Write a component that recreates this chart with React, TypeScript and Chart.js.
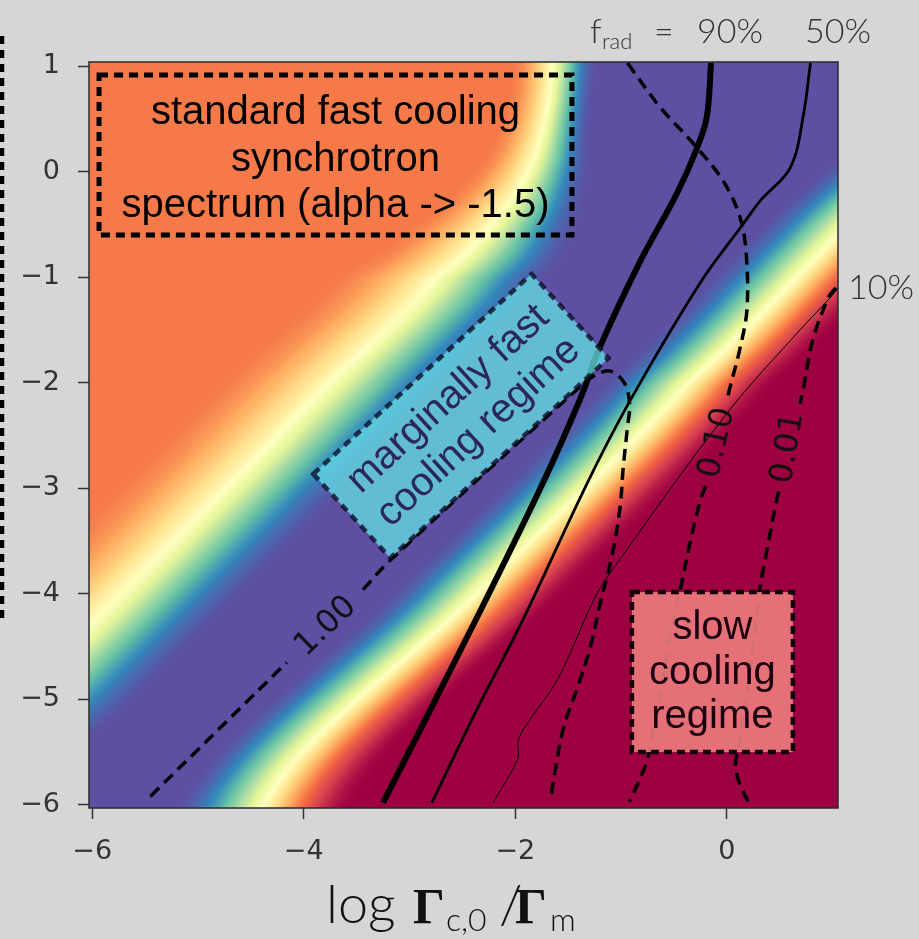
import { useEffect, useRef } from 'react';
import { Chart, registerables } from 'chart.js';

Chart.register(...registerables);

// Axis ranges and ticks
const X_MIN = -6.03;
const X_MAX = 1.05;
const Y_MIN = -6.03;
const Y_MAX = 1.04;
const xTickValues = [-6, -4, -2, 0];
const yTickValues = [-6, -5, -4, -3, -2, -1, 0, 1];

// Colour field: yellow centre line of the fast-cooling -> marginal transition
const fastEdgeY = [-6, -5, -4, -3, -2, -1, -0.5, 0, 0.5, 1];
const fastEdgeX = [-7.72, -6.72, -5.72, -4.73, -3.75, -2.75, -2.22, -1.88, -1.72, -1.65];
const fastEdgeWidth = [1.2, 1.2, 1.2, 1.2, 1.2, 1.1, 0.85, 0.6, 0.46, 0.43];
// yellow centre line of the marginal -> slow-cooling transition
const slowEdgeY = [-6, -4, -2, -0.5, 1];
const slowEdgeX = [-4.37, -2.36, -0.36, 1.15, 2.65];
const slowEdgeWidth = [0.85, 0.85, 0.85, 0.85, 0.85];
// colormap levels of the three regimes
const fastLevel = 0.22;
const bandLevel = 1;
const slowLevel = 0;

// f_rad contours
const frad90X = [-0.15, -0.19, -0.28, -0.47, -0.82, -1.2, -1.39, -1.74, -2.36, -3.25];
const frad90Y = [1.03, 0.52, 0.23, -0.2, -0.85, -1.66, -2.16, -2.95, -4.22, -5.98];
const frad50X = [0.79, 0.72, 0.6, 0.32, 0.15, -0.25, -0.91, -1.32, -1.93, -2.33, -2.79];
const frad50Y = [1.03, 0.52, 0.04, -0.27, -0.5, -1.05, -2.16, -2.95, -4.25, -5.03, -5.98];
const frad10X = [1.05, 0.98, 0.69, 0.0, -1.13, -1.26, -1.6, -1.86, -1.97, -1.98, -2.21];
const frad10Y = [-1.1, -1.19, -1.5, -2.29, -3.84, -4.06, -4.81, -5.19, -5.38, -5.57, -5.98];

// dashed ratio contours (null marks the break left for the inline label)
const ratio100X = [-5.45, -4.16, null, -3.44, -3.18, -1.39, -1.23, -1.1, -0.97, -0.92, -0.94, -0.98, -1.01, -1.08, -1.2, -1.29, -1.42, -1.55, -1.67];
const ratio100Y = [-5.92, -4.65, null, -3.96, -3.68, -2.04, -1.92, -1.89, -2.0, -2.2, -2.42, -2.8, -3.18, -3.61, -4.1, -4.5, -4.91, -5.29, -5.96];
const ratio010X = [-0.94, -0.63, -0.32, -0.04, 0.12, 0.18, 0.19, 0.12, 0.03, 0.0, null, -0.2, -0.25, -0.35, -0.44, -0.53, -0.62, -0.72, -0.76, -0.92];
const ratio010Y = [1.03, 0.61, 0.27, -0.08, -0.42, -0.75, -1.3, -1.69, -2.04, -2.17, null, -2.98, -3.11, -3.52, -3.96, -4.35, -4.9, -5.4, -5.6, -5.97];
const ratio001X = [1.03, 0.96, 0.81, 0.72, 0.69, null, 0.49, 0.47, 0.38, 0.31, 0.26, 0.19, 0.11, 0.08, 0.12, 0.2];
const ratio001Y = [-1.1, -1.19, -1.6, -2.07, -2.2, null, -3.03, -3.11, -3.58, -3.96, -4.4, -4.95, -5.45, -5.62, -5.8, -5.97];

// inline contour labels
const contourLabelText = ['1.00', '0.10', '0.01'];
const contourLabelX = [-3.79, -0.09, 0.58];
const contourLabelY = [-4.31, -2.57, -2.62];
const contourLabelAngle = [-44, -77, -80];

// matplotlib "Spectral"
const SPECTRAL = [
  [158, 1, 66], [213, 62, 79], [244, 109, 67], [253, 174, 97], [254, 224, 139],
  [255, 255, 191], [230, 245, 152], [171, 221, 164], [102, 194, 165], [50, 136, 189], [94, 79, 162],
];

function spectral(v: number): number[] {
  const t = Math.min(1, Math.max(0, v)) * (SPECTRAL.length - 1);
  const i = Math.min(SPECTRAL.length - 2, Math.floor(t));
  const f = t - i;
  const a = SPECTRAL[i];
  const b = SPECTRAL[i + 1];
  return [a[0] + (b[0] - a[0]) * f, a[1] + (b[1] - a[1]) * f, a[2] + (b[2] - a[2]) * f];
}

// smooth (Catmull-Rom) lookup along rows, linear beyond the ends
function rowLookup(rows: number[], vals: number[], y: number): number {
  const n = rows.length;
  if (y <= rows[0]) return vals[0] + ((vals[1] - vals[0]) / (rows[1] - rows[0])) * (y - rows[0]);
  if (y >= rows[n - 1]) return vals[n - 1] + ((vals[n - 1] - vals[n - 2]) / (rows[n - 1] - rows[n - 2])) * (y - rows[n - 1]);
  let i = 0;
  while (i < n - 2 && y > rows[i + 1]) i++;
  const t = (y - rows[i]) / (rows[i + 1] - rows[i]);
  const p0 = vals[Math.max(0, i - 1)];
  const p1 = vals[i];
  const p2 = vals[i + 1];
  const p3 = vals[Math.min(n - 1, i + 2)];
  const t2 = t * t;
  const t3 = t2 * t;
  return 0.5 * (2 * p1 + (-p0 + p2) * t + (2 * p0 - 5 * p1 + 4 * p2 - p3) * t2 + (-p0 + 3 * p1 - 3 * p2 + p3) * t3);
}

const ease = (t: number) => 1.5 * t - 0.5 * t * t * t;

function fieldValue(x: number, fx: number, fw: number, sx: number, sw: number): number {
  const d1 = x - fx;
  let f1: number;
  if (d1 >= 0) {
    f1 = 0.5 + (bandLevel - 0.5) * ease(Math.min(1, d1 / fw));
  } else {
    f1 = 0.5 - (0.5 - fastLevel) * ease(Math.min(1, -d1 / (0.9 * fw)));
  }
  const d2 = x - sx;
  const t2 = Math.max(-1, Math.min(1, d2 / sw));
  const f2 = t2 < 0 ? 0.5 - (bandLevel - 0.5) * ease(t2) : 0.5 - (0.5 - slowLevel) * ease(t2);
  return Math.min(f1, f2);
}

const heatmapPlugin = {
  id: 'heatmap',
  beforeDraw(chart: any) {
    const { ctx } = chart;
    ctx.save();
    ctx.fillStyle = '#d6d6d6';
    ctx.fillRect(0, 0, chart.width, chart.height);
    ctx.restore();
  },
  beforeDatasetsDraw(chart: any) {
    const { ctx, chartArea: a, scales } = chart;
    const w = Math.round(a.right - a.left);
    const h = Math.round(a.bottom - a.top);
    const off = document.createElement('canvas');
    off.width = w;
    off.height = h;
    const octx = off.getContext('2d') as CanvasRenderingContext2D;
    const img = octx.createImageData(w, h);
    const xs: number[] = [];
    for (let i = 0; i < w; i++) xs.push(scales.x.getValueForPixel(a.left + i + 0.5));
    for (let j = 0; j < h; j++) {
      const y = scales.y.getValueForPixel(a.top + j + 0.5);
      const fx = rowLookup(fastEdgeY, fastEdgeX, y);
      const fw = rowLookup(fastEdgeY, fastEdgeWidth, y);
      const sx = rowLookup(slowEdgeY, slowEdgeX, y);
      const sw = rowLookup(slowEdgeY, slowEdgeWidth, y);
      for (let i = 0; i < w; i++) {
        const c = spectral(fieldValue(xs[i], fx, fw, sx, sw));
        const k = (j * w + i) * 4;
        img.data[k] = c[0];
        img.data[k + 1] = c[1];
        img.data[k + 2] = c[2];
        img.data[k + 3] = 255;
      }
    }
    octx.putImageData(img, 0, 0);
    ctx.save();
    ctx.drawImage(off, a.left, a.top);
    ctx.restore();
  },
};

function dashedRect(ctx: CanvasRenderingContext2D, x: number, y: number, w: number, h: number) {
  ctx.beginPath();
  ctx.rect(x, y, w, h);
  ctx.stroke();
}

const overlayPlugin = {
  id: 'overlay',
  afterDatasetsDraw(chart: any) {
    const { ctx, chartArea: a, scales } = chart;
    const px = (v: number) => scales.x.getPixelForValue(v);
    const py = (v: number) => scales.y.getPixelForValue(v);
    ctx.save();

    // inline contour labels
    ctx.fillStyle = '#111';
    ctx.font = '32px "DejaVu Sans", sans-serif';
    ctx.textAlign = 'center';
    ctx.textBaseline = 'middle';
    contourLabelText.forEach((t, i) => {
      ctx.save();
      ctx.translate(px(contourLabelX[i]), py(contourLabelY[i]));
      ctx.rotate((contourLabelAngle[i] * Math.PI) / 180);
      ctx.fillText(t, 0, 0);
      ctx.restore();
    });

    // standard fast cooling box
    ctx.setLineDash([9, 6]);
    ctx.lineWidth = 5;
    ctx.strokeStyle = '#000';
    const b1x0 = px(-5.935), b1x1 = px(-1.465), b1y0 = py(0.917), b1y1 = py(-0.6);
    dashedRect(ctx, b1x0, b1y0, b1x1 - b1x0, b1y1 - b1y0);
    ctx.fillStyle = '#000';
    ctx.font = '40px "Liberation Sans", Arial, sans-serif';
    const b1cx = (b1x0 + b1x1) / 2;
    ctx.fillText('standard fast cooling', b1cx, b1y0 + 38);
    ctx.fillText('synchrotron', b1cx, b1y0 + 85);
    ctx.fillText('spectrum (alpha -> -1.5)', b1cx, b1y0 + 131);

    // marginally fast cooling box (rotated)
    ctx.save();
    ctx.translate(px(-2.514), py(-2.315));
    ctx.rotate((-42.5 * Math.PI) / 180);
    ctx.fillStyle = 'rgba(98, 222, 228, 0.76)';
    ctx.fillRect(-148, -57, 296, 114);
    ctx.strokeStyle = 'rgba(12, 12, 36, 0.78)';
    ctx.lineWidth = 4.5;
    ctx.setLineDash([8, 6]);
    dashedRect(ctx, -148, -57, 296, 114);
    ctx.fillStyle = '#2c2757';
    ctx.font = '40px "Liberation Sans", Arial, sans-serif';
    ctx.fillText('marginally fast', 2, -21);
    ctx.fillText('cooling regime', 2, 24);
    ctx.restore();

    // slow cooling box
    const b3x0 = px(-0.898), b3x1 = px(0.624), b3y0 = py(-3.984), b3y1 = py(-5.5);
    ctx.fillStyle = 'rgba(240, 128, 128, 0.88)';
    ctx.fillRect(b3x0, b3y0, b3x1 - b3x0, b3y1 - b3y0);
    ctx.strokeStyle = '#120008';
    ctx.lineWidth = 4.5;
    ctx.setLineDash([8, 5]);
    dashedRect(ctx, b3x0, b3y0, b3x1 - b3x0, b3y1 - b3y0);
    ctx.fillStyle = '#1c0010';
    const b3cx = (b3x0 + b3x1) / 2;
    ctx.fillText('slow', b3cx, b3y0 + 36);
    ctx.fillText('cooling', b3cx, b3y0 + 81);
    ctx.fillText('regime', b3cx, b3y0 + 125);

    // axes frame
    ctx.setLineDash([]);
    ctx.strokeStyle = '#2a2a2a';
    ctx.lineWidth = 1.5;
    ctx.strokeRect(a.left, a.top, a.right - a.left, a.bottom - a.top);
    ctx.restore();
  },
  afterDraw(chart: any) {
    const { ctx } = chart;
    ctx.save();
    ctx.textAlign = 'left';
    ctx.textBaseline = 'alphabetic';
    ctx.fillStyle = '#333';

    // f_rad contour captions
    ctx.font = '300 34px Lato, "Open Sans", sans-serif';
    ctx.fillText('f', 590, 43);
    ctx.font = '300 22px Lato, "Open Sans", sans-serif';
    ctx.fillText('rad', 602, 49);
    ctx.font = '300 34px Lato, "Open Sans", sans-serif';
    ctx.fillText('=', 654, 43);
    ctx.fillText('90%', 697, 43);
    ctx.fillText('50%', 805, 43);
    ctx.fillText('10%', 848, 299);

    // x axis title
    ctx.fillStyle = '#111';
    ctx.font = '300 54px Lato, "Open Sans", sans-serif';
    ctx.fillText('log', 326, 923);
    ctx.font = 'bold 50px "Liberation Serif", "DejaVu Serif", serif';
    ctx.fillText('Γ', 413, 923);
    ctx.font = '300 32px Lato, "Open Sans", sans-serif';
    ctx.fillText('c,0', 446, 931);
    ctx.font = '300 54px Lato, "Open Sans", sans-serif';
    ctx.fillText('/', 499, 923);
    ctx.font = 'bold 50px "Liberation Serif", "DejaVu Serif", serif';
    ctx.fillText('Γ', 515, 923);
    ctx.font = '300 32px Lato, "Open Sans", sans-serif';
    ctx.fillText('m', 550, 931);

    // edge of a neighbouring panel's dashed frame
    ctx.strokeStyle = '#000';
    ctx.lineWidth = 4.5;
    ctx.setLineDash([8, 6]);
    ctx.beginPath();
    ctx.moveTo(2, 36);
    ctx.lineTo(2, 618);
    ctx.stroke();
    ctx.restore();
  },
};

const zip = (xs: (number | null)[], ys: (number | null)[]) => xs.map((x, i) => ({ x, y: ys[i] }));

const fmtTick = (v: number) => (v < 0 ? '\u2212' + Math.abs(v) : String(v));

export default function App() {
  const ref = useRef<HTMLCanvasElement | null>(null);

  useEffect(() => {
    document.body.style.margin = '0';
    document.body.style.background = '#d6d6d6';
    const canvas = ref.current;
    if (!canvas) return;

    const solid = (data: any, width: number) => ({
      data,
      borderColor: '#000',
      borderWidth: width,
      pointRadius: 0,
      tension: 0.35,
      fill: false,
      spanGaps: false,
    });
    const dashed = (data: any) => ({
      data,
      borderColor: '#000',
      borderWidth: 3.5,
      borderDash: [12, 7],
      pointRadius: 0,
      tension: 0.35,
      fill: false,
      spanGaps: false,
    });

    const tickFont = { family: '"DejaVu Sans", sans-serif', size: 27 };

    const chart = new Chart(canvas, {
      type: 'line',
      data: {
        datasets: [
          dashed(zip(ratio100X, ratio100Y)),
          dashed(zip(ratio010X, ratio010Y)),
          dashed(zip(ratio001X, ratio001Y)),
          solid(zip(frad10X, frad10Y), 1),
          solid(zip(frad50X, frad50Y), 2.8),
          solid(zip(frad90X, frad90Y), 6),
        ] as any,
      },
      options: {
        responsive: false,
        animation: false,
        devicePixelRatio: 1,
        layout: { padding: { top: 62, right: 81, left: 0, bottom: 0 } },
        plugins: { legend: { display: false }, tooltip: { enabled: false } },
        scales: {
          x: {
            type: 'linear',
            min: X_MIN,
            max: X_MAX,
            afterFit: (s: any) => {
              s.height = 131;
            },
            afterBuildTicks: (s: any) => {
              s.ticks = xTickValues.map((v) => ({ value: v }));
            },
            grid: { display: true, drawOnChartArea: false, drawTicks: true, tickLength: 11, tickColor: '#333', tickWidth: 1.5 },
            border: { display: false },
            ticks: { font: tickFont, color: '#333', padding: 17, maxRotation: 0, autoSkip: false, callback: (v: any) => fmtTick(Number(v)) },
          },
          y: {
            type: 'linear',
            min: Y_MIN,
            max: Y_MAX,
            afterFit: (s: any) => {
              s.width = 89;
            },
            afterBuildTicks: (s: any) => {
              s.ticks = yTickValues.map((v) => ({ value: v }));
            },
            grid: { display: true, drawOnChartArea: false, drawTicks: true, tickLength: 11, tickColor: '#333', tickWidth: 1.5 },
            border: { display: false },
            ticks: { font: tickFont, color: '#333', padding: 18, autoSkip: false, callback: (v: any) => fmtTick(Number(v)) },
          },
        },
      } as any,
      plugins: [heatmapPlugin, overlayPlugin],
    });

    return () => chart.destroy();
  }, []);

  return <canvas ref={ref} width={919} height={939} style={{ display: 'block', width: 919, height: 939 }} />;
}
